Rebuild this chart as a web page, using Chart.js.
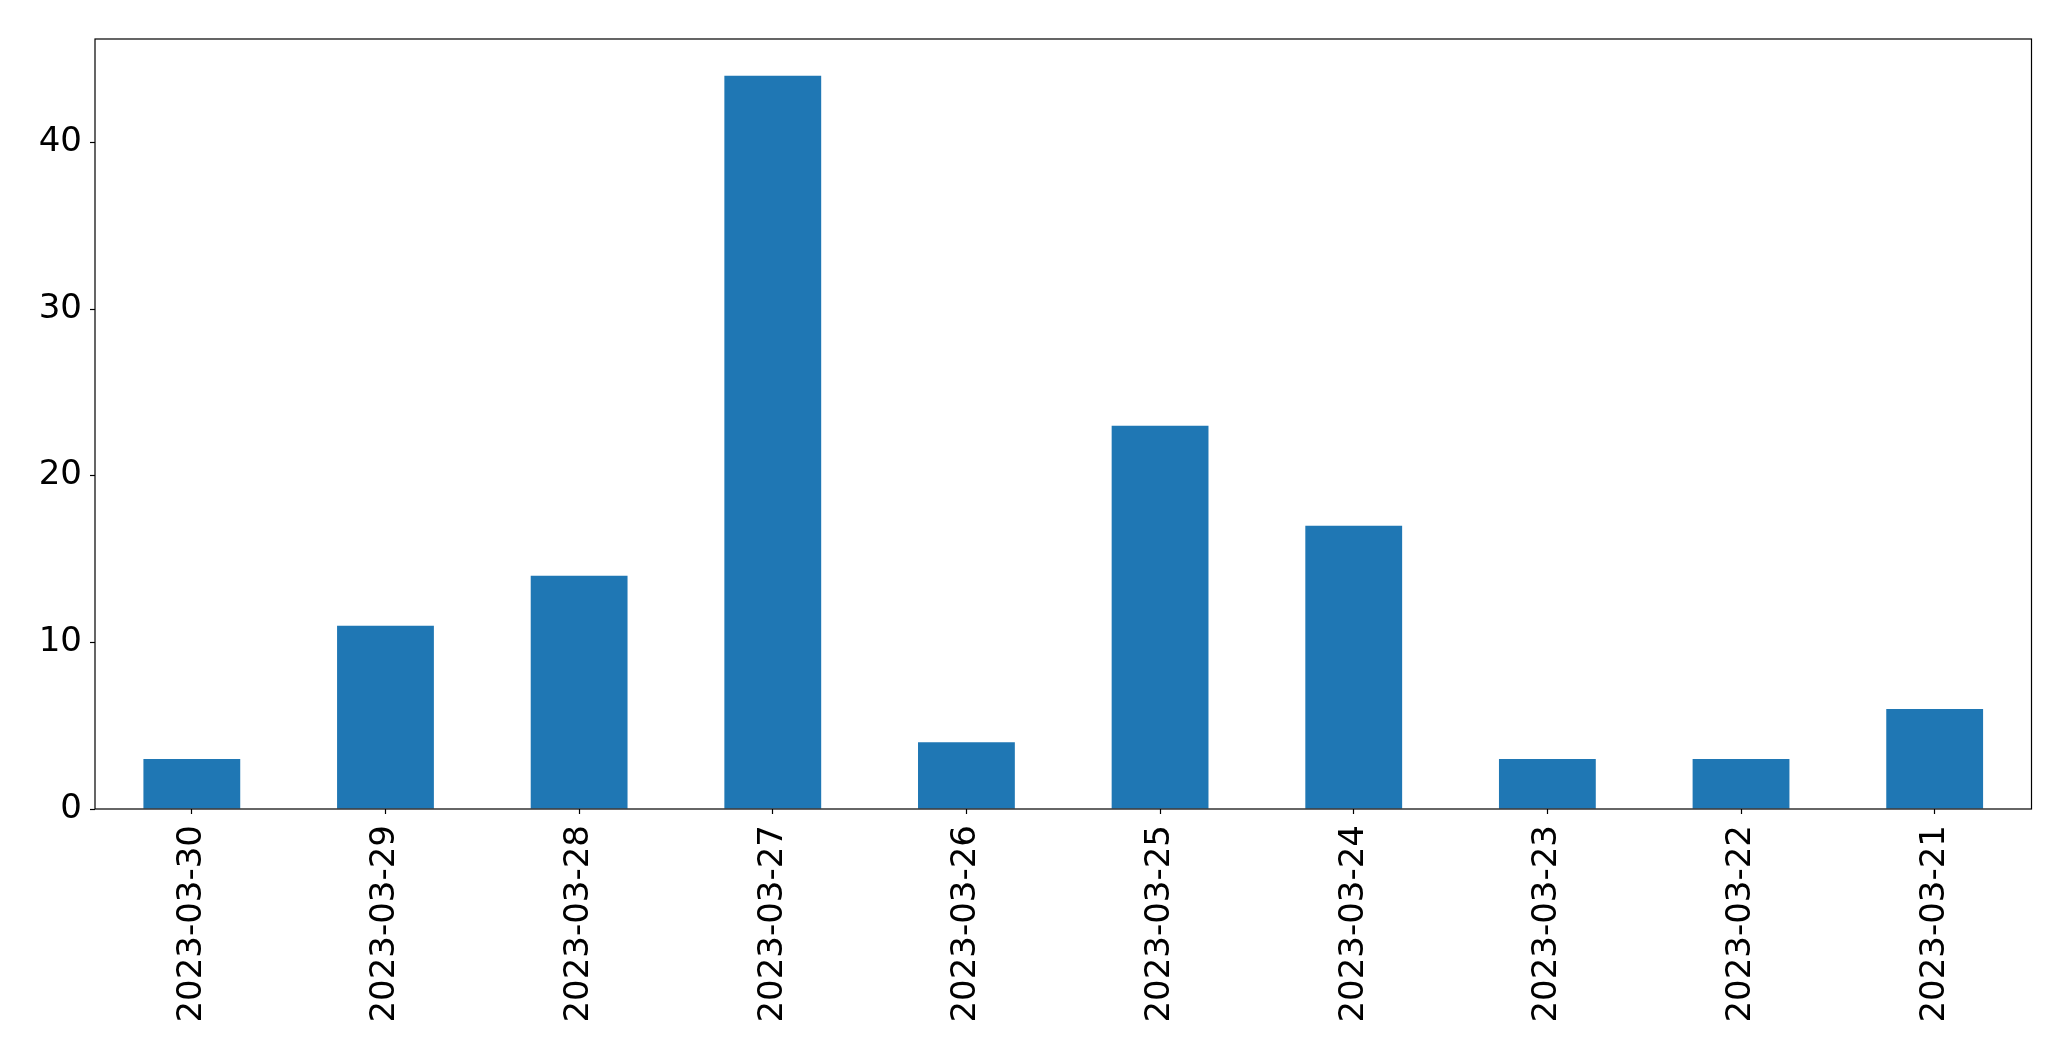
<!DOCTYPE html>
<html>
<head>
<meta charset="utf-8">
<script src="https://cdn.jsdelivr.net/npm/chart.js@4/dist/chart.umd.min.js"></script>
<style>
  html, body { margin: 0; padding: 0; background: #ffffff; }
  #wrap { width: 2071px; height: 1061px; position: relative; }
</style>
</head>
<body>
<div id="wrap"><canvas id="c" width="2071" height="1061"></canvas></div>
<script>
const categories = ["2023-03-30", "2023-03-29", "2023-03-28", "2023-03-27", "2023-03-26",
                    "2023-03-25", "2023-03-24", "2023-03-23", "2023-03-22", "2023-03-21"];
const counts = [3, 11, 14, 44, 4, 23, 17, 3, 3, 6];
const yTicks = [0, 10, 20, 30, 40];

const FONT = "'DejaVu Sans', sans-serif";
const FONT_SIZE = 34;

const framePlugin = {
  id: 'frame',
  afterDatasetsDraw(chart) {
    const a = chart.chartArea;
    const ctx = chart.ctx;
    ctx.save();
    ctx.strokeStyle = '#000000';
    ctx.lineWidth = 1.2;
    ctx.strokeRect(a.left, a.top, a.right - a.left, a.bottom - a.top);
    ctx.restore();
  }
};

new Chart(document.getElementById('c'), {
  type: 'bar',
  data: {
    labels: categories,
    datasets: [{
      data: counts,
      backgroundColor: '#1f77b4',
      borderWidth: 0,
      barPercentage: 0.5,
      categoryPercentage: 1.0
    }]
  },
  options: {
    responsive: false,
    animation: false,
    devicePixelRatio: 1,
    layout: { padding: { left: 0, top: 39, right: 39.5, bottom: 0 } },
    plugins: { legend: { display: false }, tooltip: { enabled: false } },
    scales: {
      x: {
        offset: true,
        grid: { display: true, offset: false, drawOnChartArea: false, drawTicks: true, tickLength: 5, tickColor: '#000000', tickWidth: 1.2 },
        border: { display: false },
        ticks: {
          color: '#000000',
          font: { family: FONT, size: FONT_SIZE },
          minRotation: 90, maxRotation: 90,
          padding: 11,
          autoSkip: false
        },
        afterFit(scale) { scale.height = 252; }
      },
      y: {
        min: 0,
        max: Math.max(...counts) * 1.05,
        grid: { display: true, drawOnChartArea: false, drawTicks: true, tickLength: 5, tickColor: '#000000', tickWidth: 1.2 },
        border: { display: false },
        ticks: {
          color: '#000000',
          font: { family: FONT, size: FONT_SIZE },
          padding: 8
        },
        afterBuildTicks(scale) { scale.ticks = yTicks.map(v => ({ value: v })); },
        afterFit(scale) { scale.width = 95; }
      }
    }
  },
  plugins: [framePlugin]
});
</script>
</body>
</html>
